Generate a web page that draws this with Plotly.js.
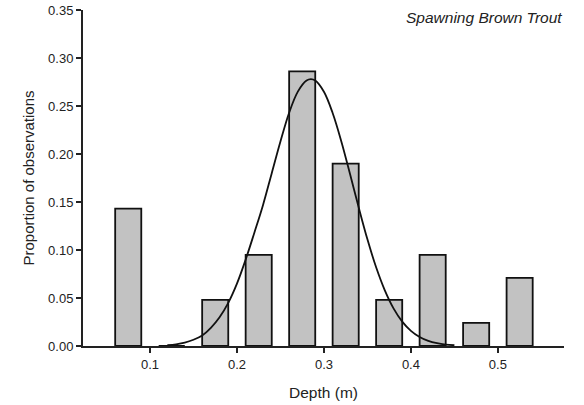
<!DOCTYPE html>
<html>
<head>
<meta charset="utf-8">
<script src="https://cdn.plot.ly/plotly-3.0.1.min.js"></script>
<style>html,body{margin:0;padding:0;background:#fff;}#chart{width:584px;height:405px;}</style>
</head>
<body>
<div id="chart"></div>
<script>
// Histogram bins (centres, m) and proportions of observations
const binCenters = [0.075, 0.125, 0.175, 0.225, 0.275, 0.325, 0.375, 0.425, 0.475, 0.525];
const proportions = [0.143, 0, 0.048, 0.095, 0.286, 0.190, 0.048, 0.095, 0.024, 0.071];

// Fitted normal curve
const curveX = [0.12, 0.13, 0.14, 0.15, 0.16, 0.17, 0.18, 0.19, 0.20, 0.21, 0.22, 0.23, 0.24, 0.25, 0.26, 0.27, 0.28, 0.285, 0.29, 0.30, 0.31, 0.32, 0.33, 0.34, 0.35, 0.36, 0.37, 0.38, 0.39, 0.40, 0.41, 0.42, 0.43, 0.44, 0.45];
const curveY = [0.0008, 0.0018, 0.0035, 0.0065, 0.011, 0.019, 0.030, 0.045, 0.065, 0.090, 0.118, 0.147, 0.180, 0.213, 0.243, 0.265, 0.2765, 0.278, 0.2765, 0.2648, 0.2427, 0.2131, 0.1791, 0.1442, 0.1111, 0.0820, 0.0580, 0.0392, 0.0254, 0.0158, 0.0094, 0.0053, 0.0029, 0.0015, 0.0008];

const xTickVals = [0.1, 0.2, 0.3, 0.4, 0.5];
const xTickText = ["0.1", "0.2", "0.3", "0.4", "0.5"];

const fam = "Liberation Sans, Arial, sans-serif";
const font = {family: fam, size: 13, color: "#222"};

const data = [
  {
    type: "bar",
    x: binCenters,
    y: proportions,
    width: 0.03,
    marker: {color: "#c2c2c2", line: {color: "#111", width: 1.8}},
    hoverinfo: "x+y"
  },
  {
    type: "scatter",
    mode: "lines",
    x: curveX,
    y: curveY,
    line: {color: "#111", width: 1.8, shape: "spline"},
    hoverinfo: "skip"
  }
];

const layout = {
  width: 584,
  height: 405,
  margin: {l: 83, r: 20, t: 10, b: 59},
  paper_bgcolor: "#fff",
  plot_bgcolor: "#fff",
  showlegend: false,
  font: font,
  xaxis: {
    range: [0.023, 0.576],
    tickvals: xTickVals,
    ticktext: xTickText,
    ticks: "outside",
    ticklen: 5,
    tickwidth: 1.3,
    tickcolor: "#222",
    showline: true,
    linecolor: "#222",
    linewidth: 2,
    showgrid: false,
    zeroline: false,
    tickfont: {family: fam, size: 13, color: "#222"},
    title: {text: "Depth (m)", font: {family: fam, size: 15.5, color: "#222"}, standoff: 17}
  },
  yaxis: {
    range: [0, 0.35],
    dtick: 0.05,
    tickformat: ".2f",
    ticks: "outside",
    ticklen: 5,
    tickwidth: 1.3,
    tickcolor: "#222",
    showline: true,
    linecolor: "#222",
    linewidth: 2,
    showgrid: false,
    zeroline: false,
    tickfont: {family: fam, size: 13, color: "#222"},
    title: {text: "Proportion of observations", font: {family: fam, size: 15, color: "#222"}, standoff: 10}
  },
  annotations: [
    {
      text: "<i>Spawning Brown Trout</i>",
      xref: "paper", yref: "paper",
      x: 1, y: 1,
      xanchor: "right", yanchor: "top",
      yshift: 3,
      showarrow: false,
      font: {family: fam, size: 15.5, color: "#222"}
    }
  ]
};

Plotly.newPlot("chart", data, layout, {displayModeBar: false, staticPlot: true});
</script>
</body>
</html>
